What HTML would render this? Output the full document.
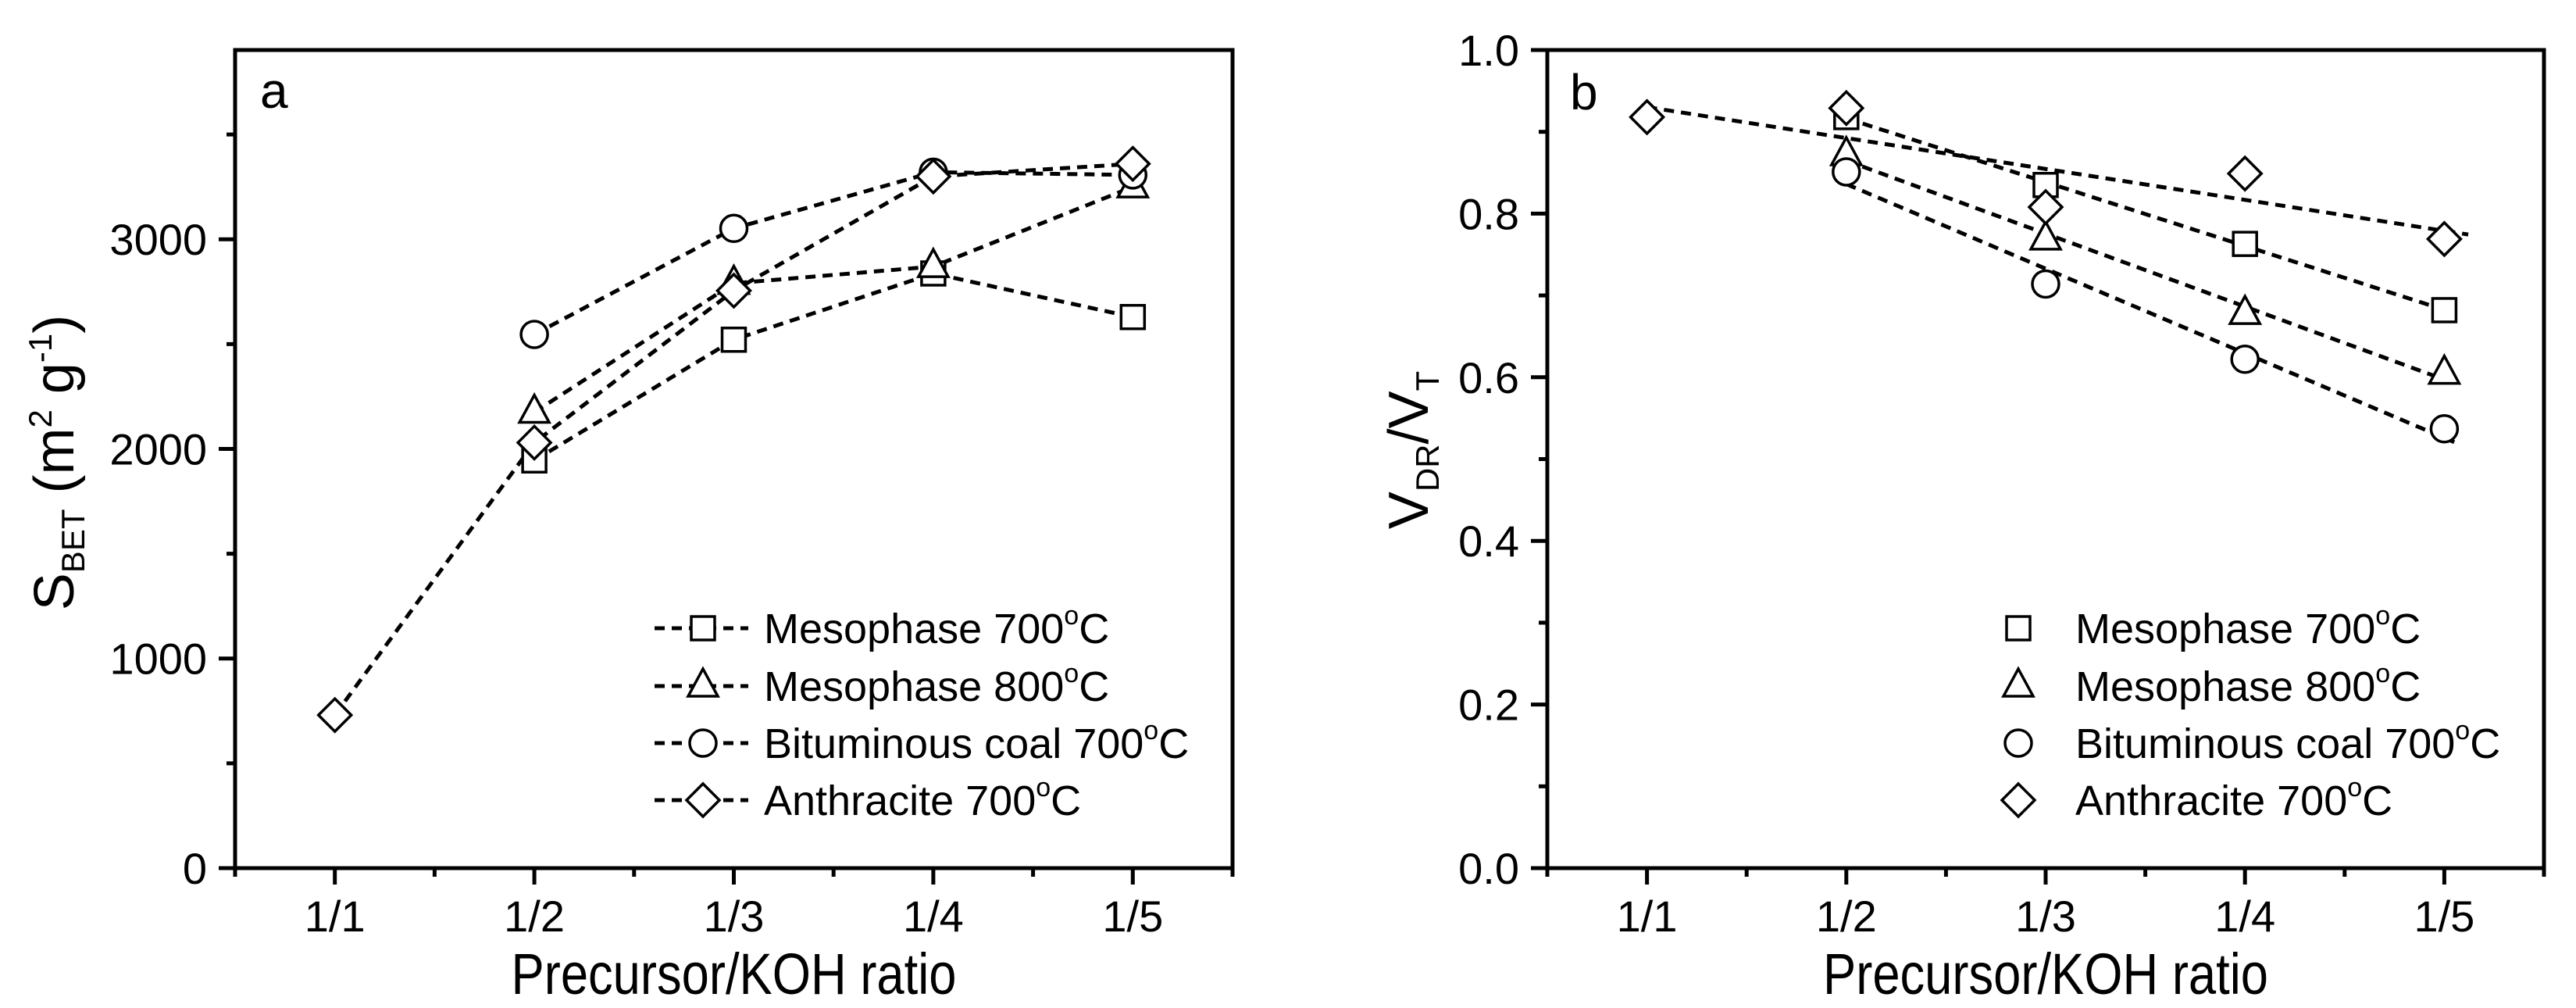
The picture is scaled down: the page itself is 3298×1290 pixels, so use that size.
<!DOCTYPE html>
<html><head><meta charset="utf-8"><style>
html,body{margin:0;padding:0;background:#fff}
svg{display:block;font-family:"Liberation Sans",Arial,sans-serif}
</style></head><body>
<svg id="fig" width="3298" height="1290" viewBox="0 0 3298 1290" xmlns="http://www.w3.org/2000/svg"></svg>
<script>
const categories = ["1/1","1/2","1/3","1/4","1/5"];
const seriesNames = ["Mesophase 700°C","Mesophase 800°C","Bituminous coal 700°C","Anthracite 700°C"];
const markers = ["square","triangle","circle","diamond"];
// panel a: S_BET values (index 0 = 1/1)
const aMeso700 = [null,1945,2521,2837,2629];
const aMeso800 = [null,2175,2790,2870,3250];
const aBitum = [null,2546,3052,3320,3307];
const aAnthr = [730,2030,2755,3300,3360];
// panel b: VDR/VT
const bMeso700 = [null,0.918,0.835,0.763,0.682];
const bMeso800 = [null,0.872,0.769,0.678,0.605];
const bBitum = [null,0.851,0.714,0.622,0.537];
const bAnthr = [0.918,0.929,0.808,0.849,0.769];
const aTicks = [0,1000,2000,3000];
const bTicks = [0.0,0.2,0.4,0.6,0.8,1.0];

const NS="http://www.w3.org/2000/svg";
const svg=document.getElementById('fig');
function el(tag,attrs,parent){const e=document.createElementNS(NS,tag);for(const k in attrs)e.setAttribute(k,attrs[k]);(parent||svg).appendChild(e);return e;}

function marker(g,type,x,y){
  const st={fill:"#fff",stroke:"#000","stroke-width":3.5};
  let m;
  if(type==="square"){m=el('rect',Object.assign({x:x-15,y:y-15,width:30,height:30},st),g);}
  else if(type==="triangle"){m=el('polygon',Object.assign({points:`${x},${y-22} ${x-19},${y+13} ${x+19},${y+13}`},st),g);}
  else if(type==="circle"){m=el('circle',Object.assign({cx:x,cy:y,r:17},st),g);}
  else {m=el('polygon',Object.assign({points:`${x},${y-21} ${x+21},${y} ${x},${y+21} ${x-21},${y}`},st),g);}
  
  
  return m;
}
const dash={stroke:"#000","stroke-width":5,fill:"none","stroke-dasharray":"13 9","stroke-linecap":"butt"};

function panel(opts){
  const {L,R,T,B,ymin,ymax,yticks,yminor,fmt,name}=opts;
  const g=el('g',{});  
  const xs=v=>L+(v-0.5)/5*(R-L);
  const ys=v=>B-(v-ymin)/(ymax-ymin)*(B-T);
  for(let i=0;i<categories.length;i++){
    el('line',{x1:xs(i+1),y1:B,x2:xs(i+1),y2:B+21,stroke:"#000","stroke-width":5},g);
    const t=el('text',{x:xs(i+1),y:1192,"font-size":56,"text-anchor":"middle"},g);t.textContent=categories[i];
     
  }
  for(let i=0;i<=5;i++) el('line',{x1:xs(i+0.5),y1:B,x2:xs(i+0.5),y2:B+11,stroke:"#000","stroke-width":5},g);
  yticks.forEach(v=>{
    el('line',{x1:L,y1:ys(v),x2:L-21,y2:ys(v),stroke:"#000","stroke-width":5},g);
    const t=el('text',{x:L-36,y:ys(v)+20,"font-size":56,"text-anchor":"end"},g);t.textContent=fmt(v);
     
  });
  yminor.forEach(v=>el('line',{x1:L,y1:ys(v),x2:L-11,y2:ys(v),stroke:"#000","stroke-width":5},g));
  const fr=el('rect',{x:L,y:T,width:R-L,height:B-T,fill:"none",stroke:"#000","stroke-width":5},g);
   
  const xt=el('text',{x:(L+R)/2,y:1272,"font-size":74,"text-anchor":"middle",textLength:570,lengthAdjust:"spacingAndGlyphs"},g);xt.textContent="Precursor/KOH ratio";
   
  return {g,xs,ys};
}

// Panel A
const A=panel({L:301,R:1578,T:64,B:1111,ymin:0,ymax:3903,yticks:aTicks,yminor:[500,1500,2500,3500],fmt:v=>String(v),name:'panel-a'});
const aData=[aMeso700,aMeso800,aBitum,aAnthr];
aData.forEach((arr,si)=>{
  const pts=[];arr.forEach((v,i)=>{if(v!==null)pts.push([A.xs(i+1),A.ys(v)]);});
  const p=el('polyline',Object.assign({points:pts.map(p=>p.join(',')).join(' ')},dash),A.g);
  
  
});
aData.forEach((arr,si)=>arr.forEach((v,i)=>{if(v!==null)marker(A.g,markers[si],A.xs(i+1),A.ys(v));}));
let lt=el('text',{x:333,y:138,"font-size":64},A.g);lt.textContent="a";

let yt=el('text',{transform:"translate(94,592) rotate(-90)","font-size":72,"text-anchor":"middle"},A.g);
yt.innerHTML='S<tspan font-size="42" dy="14">BET</tspan><tspan dy="-14"> (m</tspan><tspan font-size="42" dy="-28">2</tspan><tspan dy="28"> g</tspan><tspan font-size="42" dy="-28">-1</tspan><tspan dy="28">)</tspan>';

const legY=[804,878,951,1024];
seriesNames.forEach((n,i)=>{
  const lg=el('g',{},A.g);
  el('line',Object.assign({x1:838,y1:legY[i],x2:958,y2:legY[i]},dash),lg);
  marker(lg,markers[i],900,legY[i]);
  const t=el('text',{x:978,y:legY[i]+19,"font-size":54},lg);
  t.innerHTML=n.replace('°C','<tspan font-size="34" dy="-24">o</tspan><tspan dy="24">C</tspan>');
});

// Panel B
const Bp=panel({L:1981,R:3257,T:64,B:1111,ymin:0,ymax:1.0,yticks:bTicks,yminor:[0.1,0.3,0.5,0.7,0.9],fmt:v=>v.toFixed(1),name:'panel-b'});
const bData=[bMeso700,bMeso800,bBitum,bAnthr];
bData.forEach((arr,si)=>{
  const xsv=[],ysv=[];arr.forEach((v,i)=>{if(v!==null){xsv.push(i+1);ysv.push(v);}});
  const n=xsv.length,mx=xsv.reduce((a,b)=>a+b)/n,my=ysv.reduce((a,b)=>a+b)/n;
  let sxy=0,sxx=0;for(let k=0;k<n;k++){sxy+=(xsv[k]-mx)*(ysv[k]-my);sxx+=(xsv[k]-mx)**2;}
  const s=sxy/sxx,f=x=>my+s*(x-mx);
  const x0=xsv[0],x1=xsv[n-1]+(si===3?0.12:0.05);
  const l=el('line',Object.assign({x1:Bp.xs(x0),y1:Bp.ys(f(x0)),x2:Bp.xs(x1),y2:Bp.ys(f(x1))},dash),Bp.g);
  
  
});
bData.forEach((arr,si)=>arr.forEach((v,i)=>{if(v!==null)marker(Bp.g,markers[si],Bp.xs(i+1),Bp.ys(v));}));
lt=el('text',{x:2010,y:140,"font-size":64},Bp.g);lt.textContent="b";

yt=el('text',{transform:"translate(1828,576) rotate(-90)","font-size":72,"text-anchor":"middle"},Bp.g);
yt.innerHTML='V<tspan font-size="42" dy="14">DR</tspan><tspan dy="-14">/V</tspan><tspan font-size="42" dy="14">T</tspan>';

seriesNames.forEach((n,i)=>{
  const lg=el('g',{},Bp.g);
  marker(lg,markers[i],2584,legY[i]);
  const t=el('text',{x:2657,y:legY[i]+19,"font-size":54},lg);
  t.innerHTML=n.replace('°C','<tspan font-size="34" dy="-24">o</tspan><tspan dy="24">C</tspan>');
});
</script>
</body></html>
